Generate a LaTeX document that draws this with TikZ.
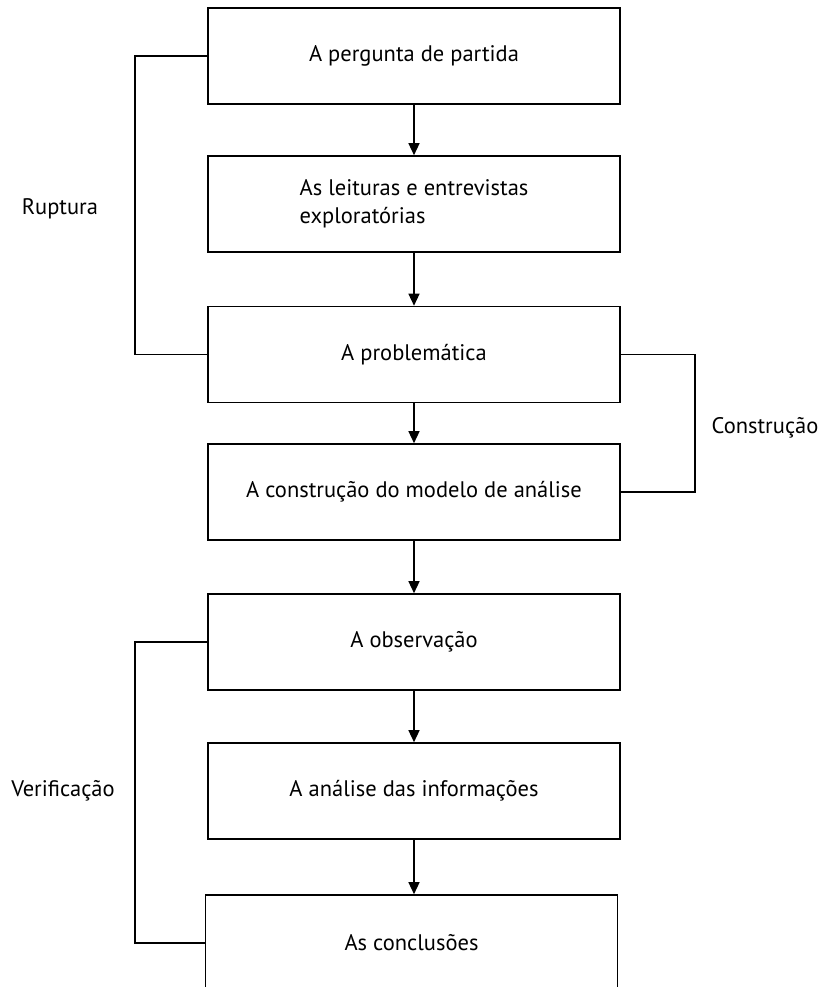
\documentclass[tikz,border=0pt]{standalone}
\usepackage{fontspec}
\setmainfont{PT Sans}
\usetikzlibrary{arrows.meta}
\begin{document}
\begin{tikzpicture}[x=1pt,y=-1pt,
  stage/.style={draw,line width=1.6pt,minimum width=412pt,minimum height=96pt,
    inner sep=0pt,align=center,font=\fontsize{22.5}{28}\selectfont},
  side/.style={font=\fontsize{22.5}{26}\selectfont},
  flow/.style={line width=1.4pt,-{Triangle[width=11pt,length=12pt]}},
  bracket/.style={line width=1.3pt}]
\useasboundingbox (0,0) rectangle (825,987);
\clip (0,0) rectangle (825,987);
\node[stage] (b1) at (414,56) {A pergunta de partida};
\node[stage,align=left] (b2) at (414,204) {As leituras e entrevistas\\exploratórias};
\node[stage] (b3) at (414,354.5) {A problemática};
\node[stage] (b4) at (414,492) {A construção do modelo de análise};
\node[stage] (b5) at (414,642) {A observação};
\node[stage] (b6) at (414,791) {A análise das informações};
\node[stage] (b7) at (411.5,943) {As conclusões};
\draw[flow] (b1) -- (b2);
\draw[flow] (b2) -- (b3);
\draw[flow] (b3) -- (b4);
\draw[flow] (b4) -- (b5);
\draw[flow] (b5) -- (b6);
\draw[flow] (b6.south) -- (b6.south |- b7.north);
\coordinate (rl) at (135,0);
\coordinate (rr) at (695,0);
\draw[bracket] (b1.west) -- (b1.west -| rl) -- (b3.west -| rl) -- (b3.west);
\draw[bracket] (b3.east) -- (b3.east -| rr) -- (b4.east -| rr) -- (b4.east);
\draw[bracket] (b5.west) -- (b5.west -| rl) -- (b7.west -| rl) -- (b7.west);
\node[side] (l1) at (60,209) {Ruptura};
\node[side] (l2) at (765,428) {Construção};
\node[side] (l3) at (63,791) {Verificação};
\end{tikzpicture}
\end{document}
